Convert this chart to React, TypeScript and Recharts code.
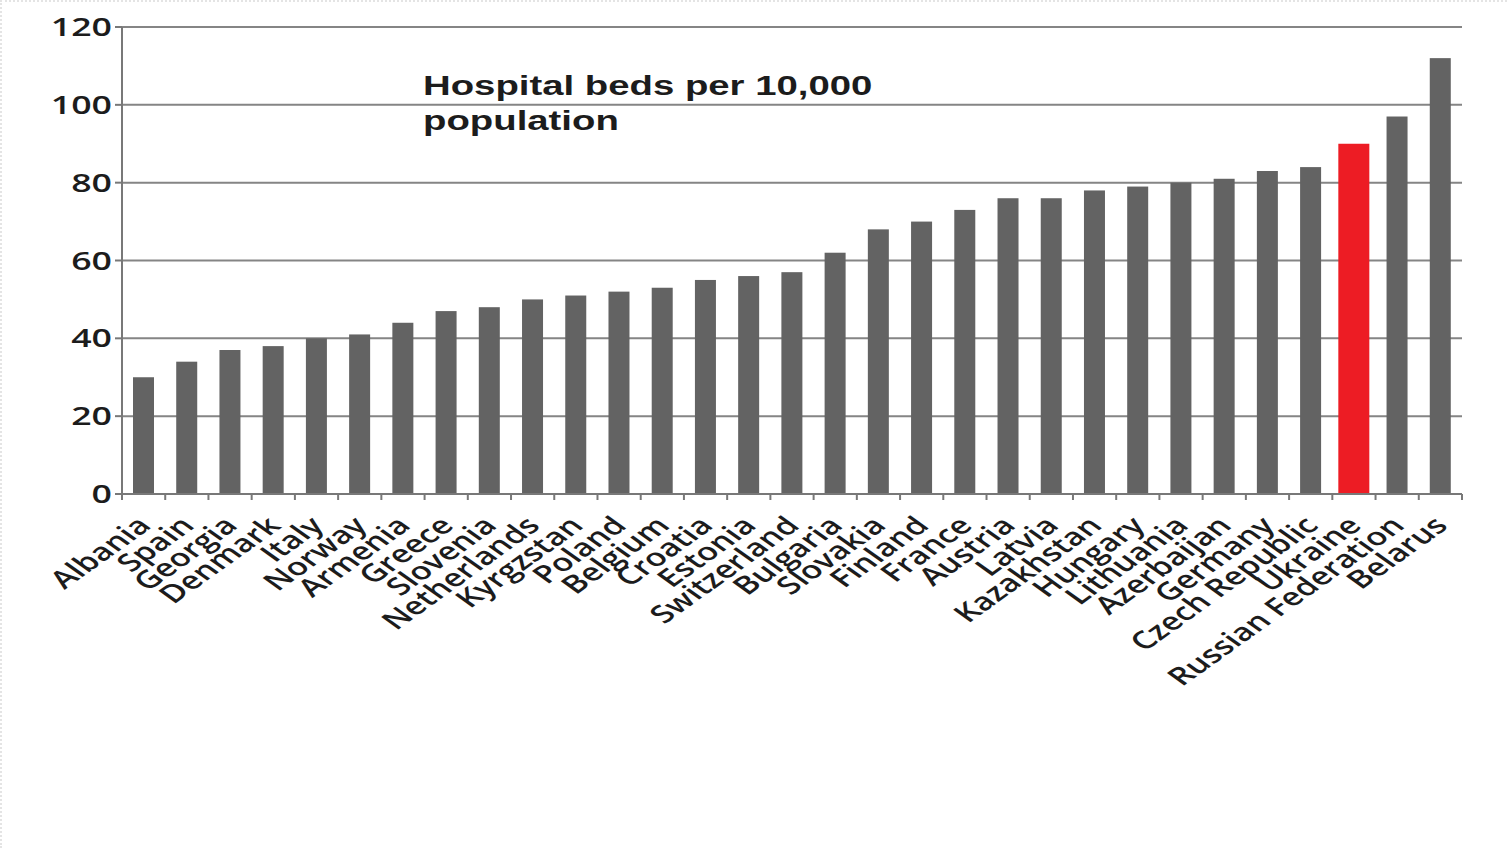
import React from 'react';
import { BarChart, Bar, XAxis, YAxis, CartesianGrid } from 'recharts';

const countries = [
  'Albania', 'Spain', 'Georgia', 'Denmark', 'Italy', 'Norway', 'Armenia', 'Greece',
  'Slovenia', 'Netherlands', 'Kyrgzstan', 'Poland', 'Belgium', 'Croatia', 'Estonia',
  'Switzerland', 'Bulgaria', 'Slovakia', 'Finland', 'France', 'Austria', 'Latvia',
  'Kazakhstan', 'Hungary', 'Lithuania', 'Azerbaijan', 'Germany', 'Czech Republic',
  'Ukraine', 'Russian Federation', 'Belarus',
];
const beds = [
  30, 34, 37, 38, 40, 41, 44, 47,
  48, 50, 51, 52, 53, 55, 56,
  57, 62, 68, 70, 73, 76, 76,
  78, 79, 80, 81, 83, 84,
  90, 97, 112,
];
const yTicks = [0, 20, 40, 60, 80, 100, 120];
const titleLines = ['Hospital beds per 10,000', 'population'];
const highlighted = 'Ukraine';

const data = countries.map((country, i) => ({ country, beds: beds[i] }));

const W = 1507;
const H = 848;
const M = { top: 25, right: 47, left: 0, bottom: 0 };
const Y_AXIS_W = 120;
const X_AXIS_H = 356;
const PLOT_LEFT = M.left + Y_AXIS_W;
const PLOT_RIGHT = W - M.right;
const PLOT_BOTTOM = H - M.bottom - X_AXIS_H;
const BAND = (PLOT_RIGHT - PLOT_LEFT) / countries.length;
const STRETCH = 1.4;
const AXIS_GREY = '#787878';
const INK = '#1c1c1c';

const XTick = (props: any) => {
  const { x, payload, index } = props;
  const left = x - BAND / 2;
  const isLast = index === countries.length - 1;
  return (
    <g>
      <line x1={left} x2={left} y1={PLOT_BOTTOM} y2={PLOT_BOTTOM + 6} stroke={AXIS_GREY} strokeWidth={2} />
      {isLast && (
        <line x1={x + BAND / 2} x2={x + BAND / 2} y1={PLOT_BOTTOM} y2={PLOT_BOTTOM + 6} stroke={AXIS_GREY} strokeWidth={2} />
      )}
      <text
        transform={`translate(${x + 9},${PLOT_BOTTOM + 33}) scale(${STRETCH},1) rotate(-45)`}
        textAnchor="end"
        fontFamily="'Open Sans', sans-serif"
        fontWeight={600}
        fontSize={24.5}
        fill={INK}
      >
        {payload.value}
      </text>
    </g>
  );
};

const YTick = (props: any) => {
  const { y, payload } = props;
  return (
    <text
      transform={`translate(${PLOT_LEFT - 10},${y + 9}) scale(${STRETCH},1)`}
      textAnchor="end"
      fontFamily="'Open Sans', sans-serif"
      fontWeight={600}
      fontSize={25.5}
      fill={INK}
    >
      {payload.value}
    </text>
  );
};

const BedBar = (props: any) => {
  const { x, y, width, height, payload } = props;
  const isHi = payload.country === highlighted;
  const extra = isHi ? 5 : 0;
  return (
    <rect
      x={x - extra}
      y={y}
      width={width + extra * 2}
      height={height}
      fill={isHi ? '#ed1c24' : '#636363'}
    />
  );
};

export default function App() {
  return (
    <div
      style={{
        position: 'absolute',
        left: 0,
        top: 0,
        width: W,
        height: H,
        background: '#fff',
        boxSizing: 'border-box',
        borderTop: '2px dotted #e4e4e4',
        borderLeft: '2px dotted #e4e4e4',
      }}
    >
      <BarChart width={W} height={H} data={data} margin={M} barSize={21}>
        <CartesianGrid vertical={false} stroke="#858585" strokeWidth={2} />
        <XAxis
          dataKey="country"
          interval={0}
          height={X_AXIS_H}
          axisLine={{ stroke: AXIS_GREY, strokeWidth: 2 }}
          tickLine={false}
          tick={<XTick />}
        />
        <YAxis
          domain={[0, 120]}
          ticks={yTicks}
          width={Y_AXIS_W}
          axisLine={{ stroke: AXIS_GREY, strokeWidth: 2 }}
          tickLine={{ stroke: AXIS_GREY, strokeWidth: 2 }}
          tickSize={7}
          tick={<YTick />}
        />
        <Bar dataKey="beds" shape={<BedBar />} isAnimationActive={false} />
      </BarChart>
      <svg
        width={W}
        height={H}
        style={{ position: 'absolute', left: 0, top: 0, pointerEvents: 'none' }}
      >
        {titleLines.map((line, i) => (
          <text
            key={i}
            transform={`translate(421,${93 + i * 35}) scale(1.42,1)`}
            fontFamily="'Liberation Sans', Arial, sans-serif"
            fontWeight="bold"
            fontSize={27}
            fill={INK}
          >
            {line}
          </text>
        ))}
      </svg>
    </div>
  );
}
